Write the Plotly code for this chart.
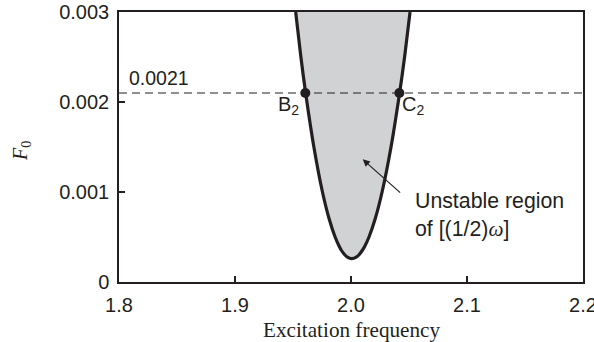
import plotly.graph_objects as go

# Boundary of the unstable region [(1/2)ω] in the (excitation frequency, F0) plane
f0_levels = [0.003, 0.0025, 0.0021, 0.0015, 0.001, 0.0007, 0.0005, 0.0004,
             0.00035, 0.0003, 0.00028, 0.00026]
freq_left = [1.9523, 1.9568, 1.9609, 1.9680, 1.9754, 1.9812, 1.9863, 1.9897,
             1.9918, 1.9948, 1.9965, 2.0006]
freq_right = [2.0509, 2.0462, 2.0419, 2.0345, 2.0268, 2.0208, 2.0155, 2.0120,
              2.0097, 2.0067, 2.0049, 2.0006]

# Excitation level of interest and its crossing points B2 and C2
f0_level = 0.0021
cross_freq = [1.9606, 2.0417]
cross_names = ["B<sub>2</sub>", "C<sub>2</sub>"]

x_range = [1.8, 2.2]
y_range = [0, 0.003]
x_ticks = [1.8, 1.9, 2.0, 2.1, 2.2]
x_ticklabels = ["1.8", "1.9", "2.0", "2.1", "2.2"]
y_ticks = [0, 0.001, 0.002, 0.003]
y_ticklabels = ["0", "0.001", "0.002", "0.003"]

INK = "#231f20"
SANS = "Liberation Sans, Arial, sans-serif"
SERIF = "Liberation Serif, Times New Roman, serif"

# closed outline: down the left branch, up the right branch
outline_x = freq_left + freq_right[::-1][1:]
outline_y = f0_levels + f0_levels[::-1][1:]

fig = go.Figure()

fig.add_trace(go.Scatter(
    x=outline_x, y=outline_y, mode="lines", fill="toself",
    fillcolor="#d1d2d4", line=dict(color=INK, width=3.2, shape="spline", smoothing=0.8),
    hoverinfo="skip", showlegend=False,
))

fig.add_trace(go.Scatter(
    x=x_range, y=[f0_level, f0_level], mode="lines",
    line=dict(color=INK, width=1.2, dash="8px,5px"),
    hoverinfo="skip", showlegend=False,
))

fig.add_trace(go.Scatter(
    x=cross_freq, y=[f0_level] * len(cross_freq), mode="markers",
    marker=dict(color=INK, size=10),
    hoverinfo="skip", showlegend=False,
))

annotations = [
    dict(x=1.807, y=f0_level, text=f"{f0_level:g}", xanchor="left", yanchor="bottom",
         yshift=2, showarrow=False, font=dict(size=19.5, color=INK, family=SANS)),
    dict(x=cross_freq[0], y=f0_level, text=cross_names[0], xanchor="right", yanchor="top",
         xshift=-4, yshift=2, showarrow=False, font=dict(size=20, color=INK, family=SANS)),
    dict(x=cross_freq[1], y=f0_level, text=cross_names[1], xanchor="left", yanchor="top",
         xshift=1, yshift=2, showarrow=False, font=dict(size=20, color=INK, family=SANS)),
    # arrow pointing into the shaded region
    dict(x=2.0101, y=0.001363, ax=2.0437, ay=0.000978, xref="x", yref="y",
         axref="x", ayref="y", text="", showarrow=True, arrowhead=2, arrowsize=1.2,
         arrowwidth=1.2, arrowcolor=INK),
    dict(x=2.0534, y=0.00074, text="Unstable region<br>of [(1/2)<span style='font-family:"
         "Liberation Serif, Times New Roman, serif'><i>ω</i></span>]",
         xanchor="left", yanchor="middle", align="left", showarrow=False,
         font=dict(size=21.3, color=INK, family=SANS)),
    # axis titles
    dict(x=0.5, y=0, xref="paper", yref="paper", text="Excitation frequency",
         xanchor="center", yanchor="middle", yshift=-48, showarrow=False,
         font=dict(size=21.2, color=INK, family=SERIF)),
    dict(x=0, y=0.5, xref="paper", yref="paper", text="<i>F</i><sub>0</sub>",
         textangle=-90, xanchor="center", yanchor="middle", xshift=-98, yshift=-4,
         showarrow=False, font=dict(size=20, color=INK, family=SERIF)),
]

axis_common = dict(
    showline=True, linecolor=INK, linewidth=1.5, mirror=True,
    ticks="inside", ticklen=6, tickwidth=1.5, tickcolor=INK,
    showgrid=False, zeroline=False, automargin=False,
    ticklabeloverflow="allow",
    tickfont=dict(size=20, color=INK, family=SANS),
)

fig.update_layout(
    width=594, height=342,
    margin=dict(l=119, r=11, t=12, b=60),
    paper_bgcolor="white", plot_bgcolor="white",
    xaxis=dict(range=[x_range[0] - 1e-9, x_range[1] + 1e-9], tickvals=x_ticks,
               ticktext=x_ticklabels, ticklabelstandoff=4, **axis_common),
    yaxis=dict(range=[y_range[0] - 1e-12, y_range[1] + 1e-12], tickvals=y_ticks,
               ticktext=y_ticklabels, ticklabelstandoff=4, **axis_common),
    annotations=annotations,
    showlegend=False,
)

fig.write_html("out.html")
